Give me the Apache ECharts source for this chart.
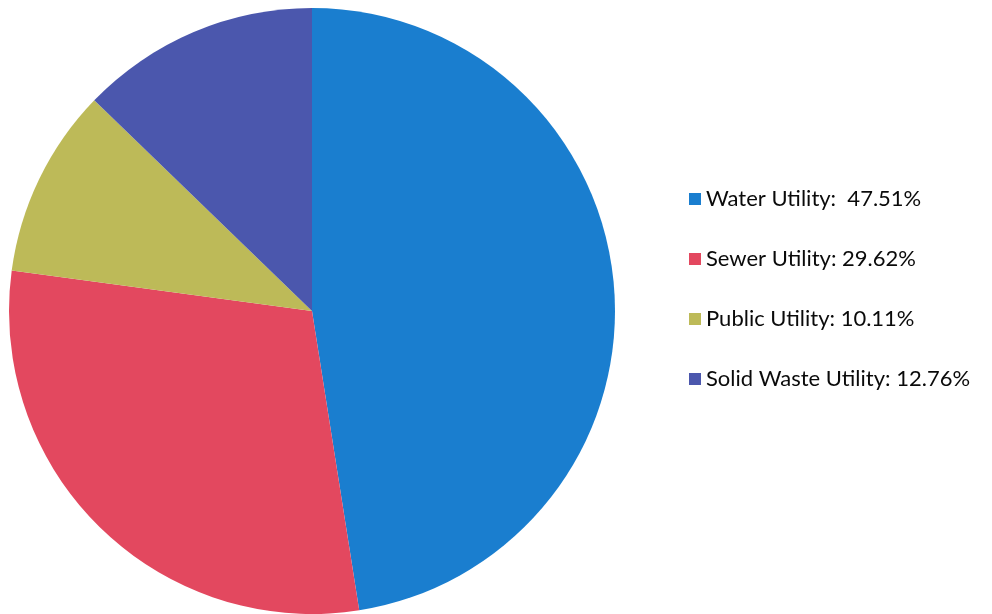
<!DOCTYPE html>
<html>
<head>
<meta charset="utf-8">
<script src="https://cdn.jsdelivr.net/npm/echarts@6/dist/echarts.min.js"></script>
<style>
  html, body { margin: 0; padding: 0; background: #fff; }
  #chart { width: 992px; height: 614px; }
</style>
</head>
<body>
<div id="chart"></div>
<script>
// Utility share of total, in percent
const categories = ['Water Utility', 'Sewer Utility', 'Public Utility', 'Solid Waste Utility'];
const shares = [47.51, 29.62, 10.11, 12.76];
const labelSpacing = ['  ', ' ', ' ', ' '];
const colors = ['#1a7ecf', '#e3485f', '#bdba58', '#4b57ad'];

const chart = echarts.init(document.getElementById('chart'), null, { renderer: 'canvas' });

const pieData = categories.map((name, i) => ({
  name: name,
  value: shares[i],
  itemStyle: { color: colors[i] }
}));

chart.setOption({
  backgroundColor: '#ffffff',
  animation: false,
  legend: {
    orient: 'vertical',
    left: 684,
    top: 183,
    icon: 'rect',
    itemWidth: 12,
    itemHeight: 12,
    itemGap: 38,
    textStyle: {
      fontFamily: 'Lato',
      fontSize: 22,
      lineHeight: 22,
      color: '#0a0a0a'
    },
    formatter: function (name) {
      const i = categories.indexOf(name);
      return name + ':' + labelSpacing[i] + shares[i].toFixed(2) + '%';
    },
    data: categories
  },
  series: [{
    type: 'pie',
    center: [312, 311],
    radius: [0, 303],
    startAngle: 90,
    clockwise: true,
    label: { show: false },
    labelLine: { show: false },
    emphasis: { disabled: true },
    itemStyle: { borderWidth: 0 },
    data: pieData
  }]
});
</script>
</body>
</html>
